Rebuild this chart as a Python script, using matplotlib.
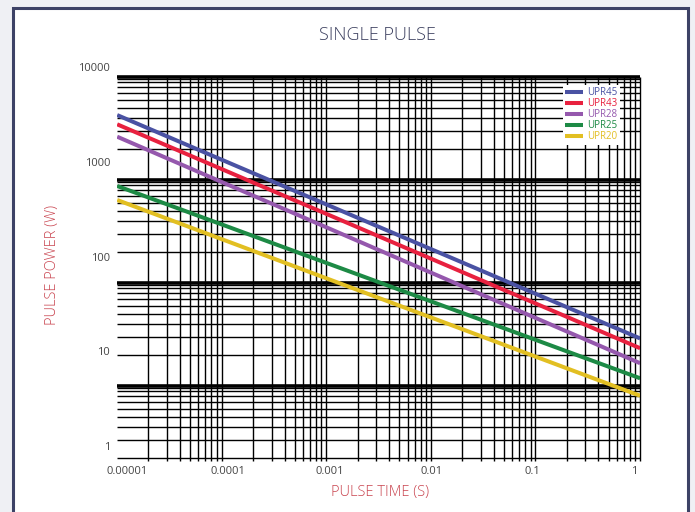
import numpy as np
import matplotlib
matplotlib.use("Agg")
import matplotlib.pyplot as plt
from matplotlib.patches import Rectangle

plt.rcParams['font.family'] = ['Open Sans', 'DejaVu Sans']

# Datos (potencia en W en los extremos del eje de tiempo)
tiempo = [8e-6, 1.15]
series = ['UPR45', 'UPR43', 'UPR28', 'UPR25', 'UPR20']
upr45 = [3130, 13.7]
upr43 = [2500, 10.8]
upr28 = [1850, 7.5]
upr25 = [558, 5.2]
upr20 = [397, 3.4]
colores = ['#4a52a3', '#e8213f', '#9558ad', '#1d8a45', '#e2bf22']

x_ticks = [1e-5, 1e-4, 1e-3, 1e-2, 1e-1, 1]
x_labels = ['0.00001', '0.0001', '0.001', '0.01', '0.1', '1']
y_ticks = [1, 10, 100, 1000, 10000]
y_labels = ['1', '10', '100', '1000', '10000']

W, H = 695, 512
fig = plt.figure(figsize=(W / 100, H / 100), dpi=100)
fig.patch.set_facecolor('#eff0f4')

# marco de la tarjeta
fig.patches.append(Rectangle((13 / W, -0.05), (688 - 13) / W, 1.05 - 8 / H,
                             transform=fig.transFigure, facecolor='white',
                             edgecolor='#3d4266', lw=2.2, zorder=-5))

def rect(left, right, top, bottom):
    return [left / W, 1 - bottom / H, (right - left) / W, (bottom - top) / H]

# papel logaritmico (rejilla de fondo)
papel = fig.add_axes(rect(117, 640, 75, 458))
papel.set_xscale('log')
papel.set_yscale('log')
papel.set_xlim(1e-5, 1)
papel.set_ylim(2, 10450)
papel.axis('off')

xs = [k * 10.0 ** n for n in range(-5, 0) for k in range(2, 11)]
papel.vlines(xs, 1.87, 10000, colors='black', lw=1.0, clip_on=False)
ys = [k * 10.0 ** n for n in range(0, 4) for k in [2, 3, 4, 5, 6, 7, 8, 9, 9.5]]
papel.hlines(ys, 1e-5, 1, colors='black', lw=1.0, clip_on=False)
papel.hlines([10, 100, 1000, 10000], 1e-5, 1, colors='black', lw=2.6, clip_on=False)

# ejes de datos
ax = fig.add_axes(rect(117, 640, 60, 458))
ax.set_facecolor('none')
ax.set_xscale('log')
ax.set_yscale('log')
ax.set_xlim(10 ** -5.0986, 10 ** 0.0592)
ax.set_ylim(10 ** -0.1257, 10 ** 4.0771)
for s in ax.spines.values():
    s.set_visible(False)

for nombre, vals, c in zip(series, [upr45, upr43, upr28, upr25, upr20], colores):
    ax.plot(tiempo, vals, color=c, lw=2.9, label=nombre, solid_capstyle='butt')

ax.set_xticks(x_ticks)
ax.set_xticklabels(x_labels)
ax.set_yticks(y_ticks)
ax.set_yticklabels(y_labels)
ax.minorticks_off()
ax.tick_params(length=0, labelsize=8, colors='#444444')
ax.tick_params(axis='x', pad=6)
ax.tick_params(axis='y', pad=5)

leg = ax.legend(loc='upper right', bbox_to_anchor=(620 / W, 1 - 85 / H),
                bbox_transform=fig.transFigure, borderaxespad=0, fontsize=7,
                labelcolor='linecolor', frameon=True, fancybox=False,
                facecolor='white', edgecolor='none', framealpha=1,
                handlelength=1.9, handletextpad=0.4, labelspacing=0.0,
                handleheight=0.6, borderpad=0.25)

fig.text(377 / W, 1 - 35 / H, 'SINGLE PULSE', ha='center', va='center',
         fontsize=13, color='#3b3f5e', fontweight='light')
fig.text(380 / W, 1 - 493 / H, 'PULSE TIME (S)', ha='center', va='center',
         fontsize=10.5, color='#c9444f', fontweight='light')
fig.text(52 / W, 1 - 265 / H, 'PULSE POWER (W)', ha='center', va='center',
         rotation=90, fontsize=10.5, color='#c9444f', fontweight='light')

fig.savefig('out.png', dpi=100, facecolor=fig.get_facecolor())
